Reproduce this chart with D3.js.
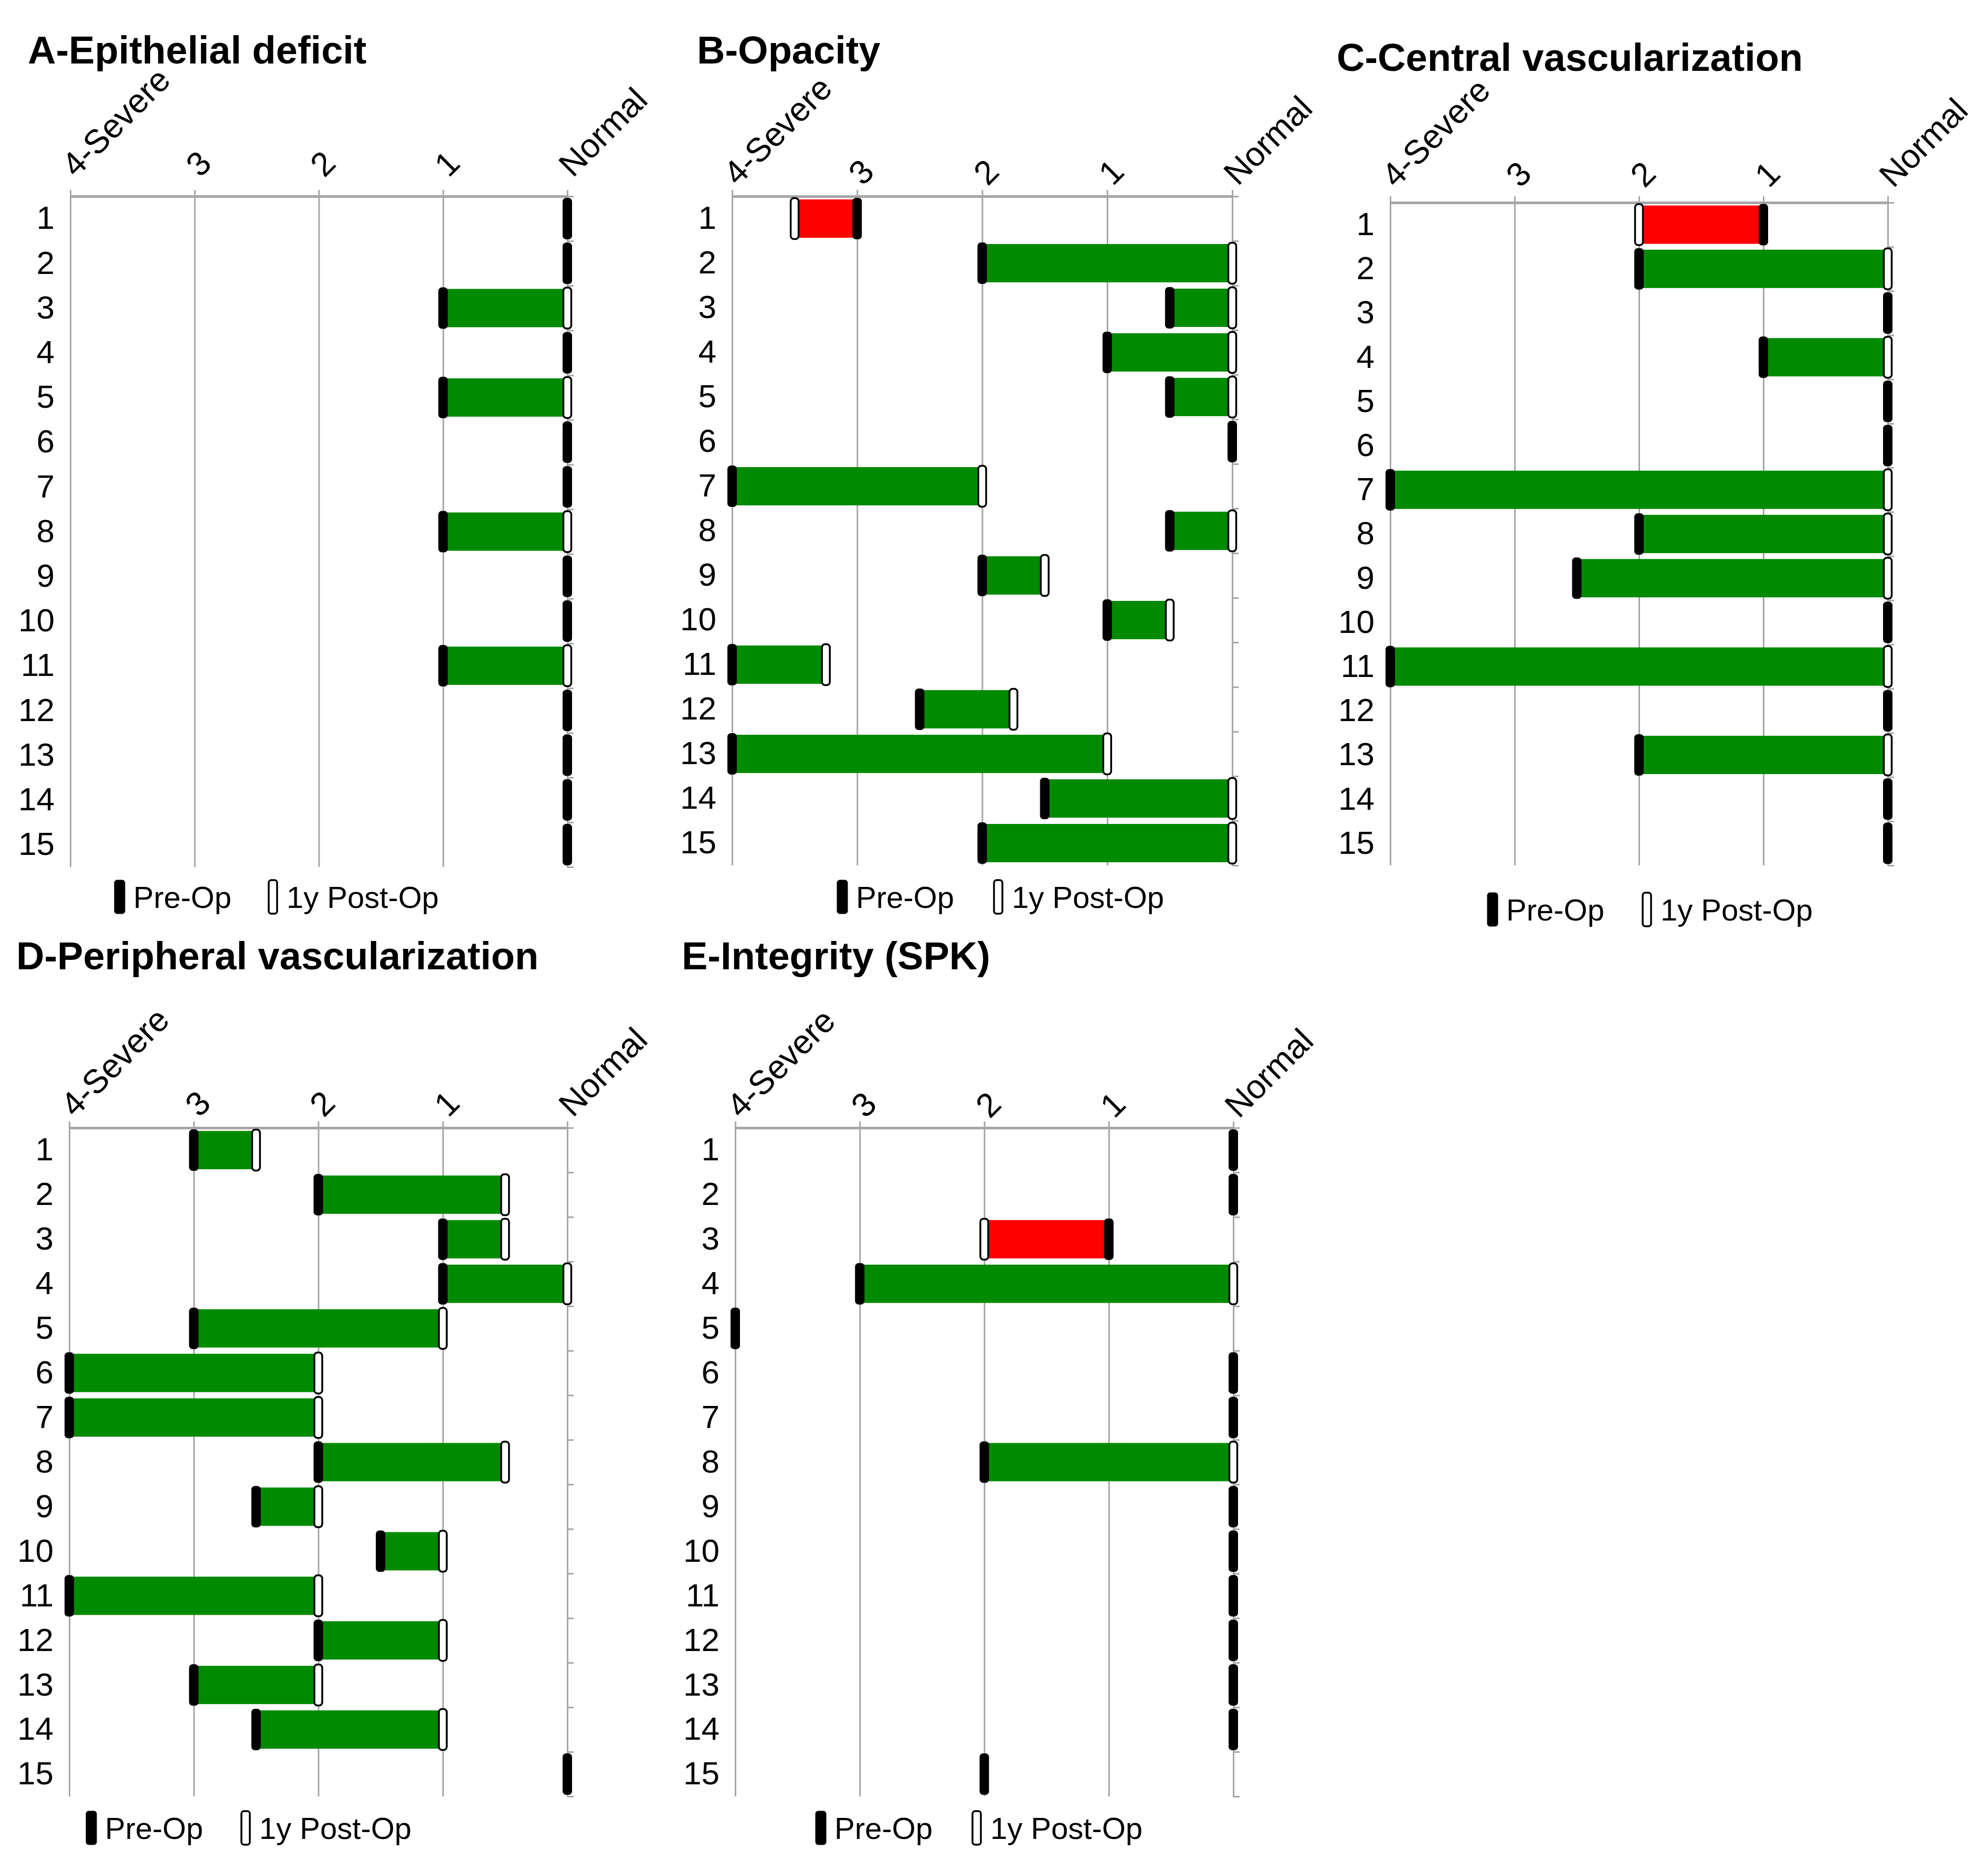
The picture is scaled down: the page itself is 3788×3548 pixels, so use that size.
<!DOCTYPE html>
<html>
<head>
<meta charset="utf-8">
<script src="https://cdn.jsdelivr.net/npm/d3@7"></script>
<style>
  body { margin: 0; background: #fff; }
  text { font-family: "Liberation Sans", Arial, sans-serif; fill: #000; }
</style>
</head>
<body>
<div id="chart"></div>
<script>
// patients (rows) and grade axis
const patients = ["1", "2", "3", "4", "5", "6", "7", "8", "9", "10", "11", "12", "13", "14", "15"];
const gradeTicks = [4, 3, 2, 1, 0];
const gradeLabels = ["4-Severe", "3", "2", "1", "Normal"];
const legendLabels = ["Pre-Op", "1y Post-Op"];

// grades, one value per patient
const epithelialPre  = [0, 0, 1, 0, 1, 0, 0, 1, 0, 0, 1, 0, 0, 0, 0];
const epithelialPost = [0, 0, 0, 0, 0, 0, 0, 0, 0, 0, 0, 0, 0, 0, 0];
const opacityPre  = [3, 2, 0.5, 1, 0.5, 0, 4, 0.5, 2, 1, 4, 2.5, 4, 1.5, 2];
const opacityPost = [3.5, 0, 0, 0, 0, 0, 2, 0, 1.5, 0.5, 3.25, 1.75, 1, 0, 0];
const centralPre  = [1, 2, 0, 1, 0, 0, 4, 2, 2.5, 0, 4, 0, 2, 0, 0];
const centralPost = [2, 0, 0, 0, 0, 0, 0, 0, 0, 0, 0, 0, 0, 0, 0];
const peripheralPre  = [3, 2, 1, 1, 3, 4, 4, 2, 2.5, 1.5, 4, 2, 3, 2.5, 0];
const peripheralPost = [2.5, 0.5, 0.5, 0, 1, 2, 2, 0.5, 2, 1, 2, 1, 2, 1, 0];
const integrityPre  = [0, 0, 1, 3, 4, 0, 0, 2, 0, 0, 0, 0, 0, 0, 2];
const integrityPost = [0, 0, 2, 0, 4, 0, 0, 0, 0, 0, 0, 0, 0, 0, 2];

const panels = [
  { title: "A-Epithelial deficit", pre: epithelialPre, post: epithelialPost,
    titleX: 53, titleY: 121, x4: 134, x0: 1081, top: 374, bottom: 1652, labelGap: 34,
    legendY: 1709, legendX: [228, 520] },
  { title: "B-Opacity", pre: opacityPre, post: opacityPost,
    titleX: 1328, titleY: 121, x4: 1395, x0: 2348, top: 374, bottom: 1649, labelGap: 18,
    legendY: 1709, legendX: [1605, 1902] },
  { title: "C-Central vascularization", pre: centralPre, post: centralPost,
    titleX: 2547, titleY: 135, x4: 2649, x0: 3597, top: 386, bottom: 1649, labelGap: 26,
    legendY: 1733, legendX: [2844, 3138] },
  { title: "D-Peripheral vascularization", pre: peripheralPre, post: peripheralPost,
    titleX: 31, titleY: 1847, x4: 132, x0: 1081, top: 2149, bottom: 3423, labelGap: 18,
    legendY: 3483, legendX: [174, 468] },
  { title: "E-Integrity (SPK)", pre: integrityPre, post: integrityPost,
    titleX: 1299, titleY: 1847, x4: 1401, x0: 2350, top: 2149, bottom: 3423, labelGap: 16,
    legendY: 3483, legendX: [1564, 1861] }
];

const width = 3788, height = 3548;
const green = "#008a00", red = "#ff0000", gridColor = "#a6a6a6";

const svg = d3.select("#chart").append("svg")
  .attr("width", width)
  .attr("height", height);

function drawMarker(g, cx, cy, post) {
  const w = post ? 15 : 17, h = 78;
  g.append("rect")
    .attr("x", cx - w / 2)
    .attr("y", cy - h / 2)
    .attr("width", w)
    .attr("height", h)
    .attr("rx", 6)
    .attr("fill", post ? "#fff" : "#000")
    .attr("stroke", "#000")
    .attr("stroke-width", post ? 3.5 : 1);
}

panels.forEach(p => {
  const g = svg.append("g");

  const x = d3.scaleLinear().domain([4, 0]).range([p.x4, p.x0]);
  const y = d3.scaleBand().domain(patients).range([p.top, p.bottom]);
  // band edges for the little ticks on the right
  const yEdge = d3.scaleLinear().domain([0, patients.length]).range([p.top, p.bottom]);

  g.append("text")
    .attr("x", p.titleX)
    .attr("y", p.titleY)
    .attr("font-size", 74)
    .attr("font-weight", "bold")
    .text(p.title);

  // vertical grid lines
  const grid = g.append("g")
    .attr("transform", `translate(0,${p.top})`)
    .call(d3.axisBottom(x).tickValues(gradeTicks).tickSize(p.bottom - p.top).tickFormat(""));
  grid.select(".domain").remove();
  grid.selectAll("line").attr("stroke", gridColor).attr("stroke-width", 3);

  // right-hand category axis (ticks at band edges)
  const right = g.append("g")
    .attr("transform", `translate(${p.x0},0)`)
    .call(d3.axisRight(yEdge).ticks(patients.length).tickSize(12).tickSizeOuter(0).tickFormat(""));
  right.select(".domain").attr("stroke", gridColor).attr("stroke-width", 3);
  right.selectAll("line").attr("stroke", gridColor).attr("stroke-width", 3);

  // top grade axis, labels slanted
  const topAxis = g.append("g")
    .attr("transform", `translate(0,${p.top})`)
    .call(d3.axisTop(x).tickValues(gradeTicks).tickSize(12).tickSizeOuter(0)
      .tickFormat((d, i) => gradeLabels[i]));
  topAxis.select(".domain").attr("stroke", gridColor).attr("stroke-width", 5);
  topAxis.selectAll("line").attr("stroke", gridColor).attr("stroke-width", 3);
  topAxis.selectAll("text")
    .attr("x", 0).attr("y", 0).attr("dy", 0)
    .attr("text-anchor", "start")
    .attr("transform", `translate(10,${-p.labelGap}) rotate(-45)`)
    .attr("font-size", 64)
    .attr("font-family", "Liberation Sans, Arial, sans-serif")
    .attr("fill", "#000");

  // patient numbers
  const left = g.append("g")
    .attr("transform", `translate(${p.x4},0)`)
    .call(d3.axisLeft(y).tickSize(0).tickPadding(30));
  left.select(".domain").remove();
  left.selectAll("text")
    .attr("font-size", 62)
    .attr("font-family", "Liberation Sans, Arial, sans-serif")
    .attr("fill", "#000");

  // change bars
  const rows = patients.map((id, i) => ({ id, pre: p.pre[i], post: p.post[i] }));
  const barH = 73;
  g.selectAll(".bar")
    .data(rows.filter(d => d.pre !== d.post))
    .join("rect")
    .attr("class", "bar")
    .attr("x", d => Math.min(x(d.pre), x(d.post)))
    .attr("width", d => Math.abs(x(d.pre) - x(d.post)))
    .attr("y", d => y(d.id) + y.bandwidth() / 2 - barH / 2)
    .attr("height", barH)
    .attr("fill", d => d.post < d.pre ? green : red);

  rows.forEach(d => {
    const cy = y(d.id) + y.bandwidth() / 2;
    if (d.pre !== d.post) drawMarker(g, x(d.post), cy, true);
    drawMarker(g, x(d.pre), cy, false);
  });

  // legend
  legendLabels.forEach((label, i) => {
    const lx = p.legendX[i];
    g.append("rect")
      .attr("x", lx - (i ? 8 : 10))
      .attr("y", p.legendY - 32)
      .attr("width", i ? 16 : 20)
      .attr("height", 64)
      .attr("rx", 5)
      .attr("fill", i ? "#fff" : "#000")
      .attr("stroke", "#000")
      .attr("stroke-width", i ? 3.5 : 1);
    g.append("text")
      .attr("x", lx + 26)
      .attr("y", p.legendY)
      .attr("dy", "0.36em")
      .attr("font-size", 58)
      .text(label);
  });
});
</script>
</body>
</html>
